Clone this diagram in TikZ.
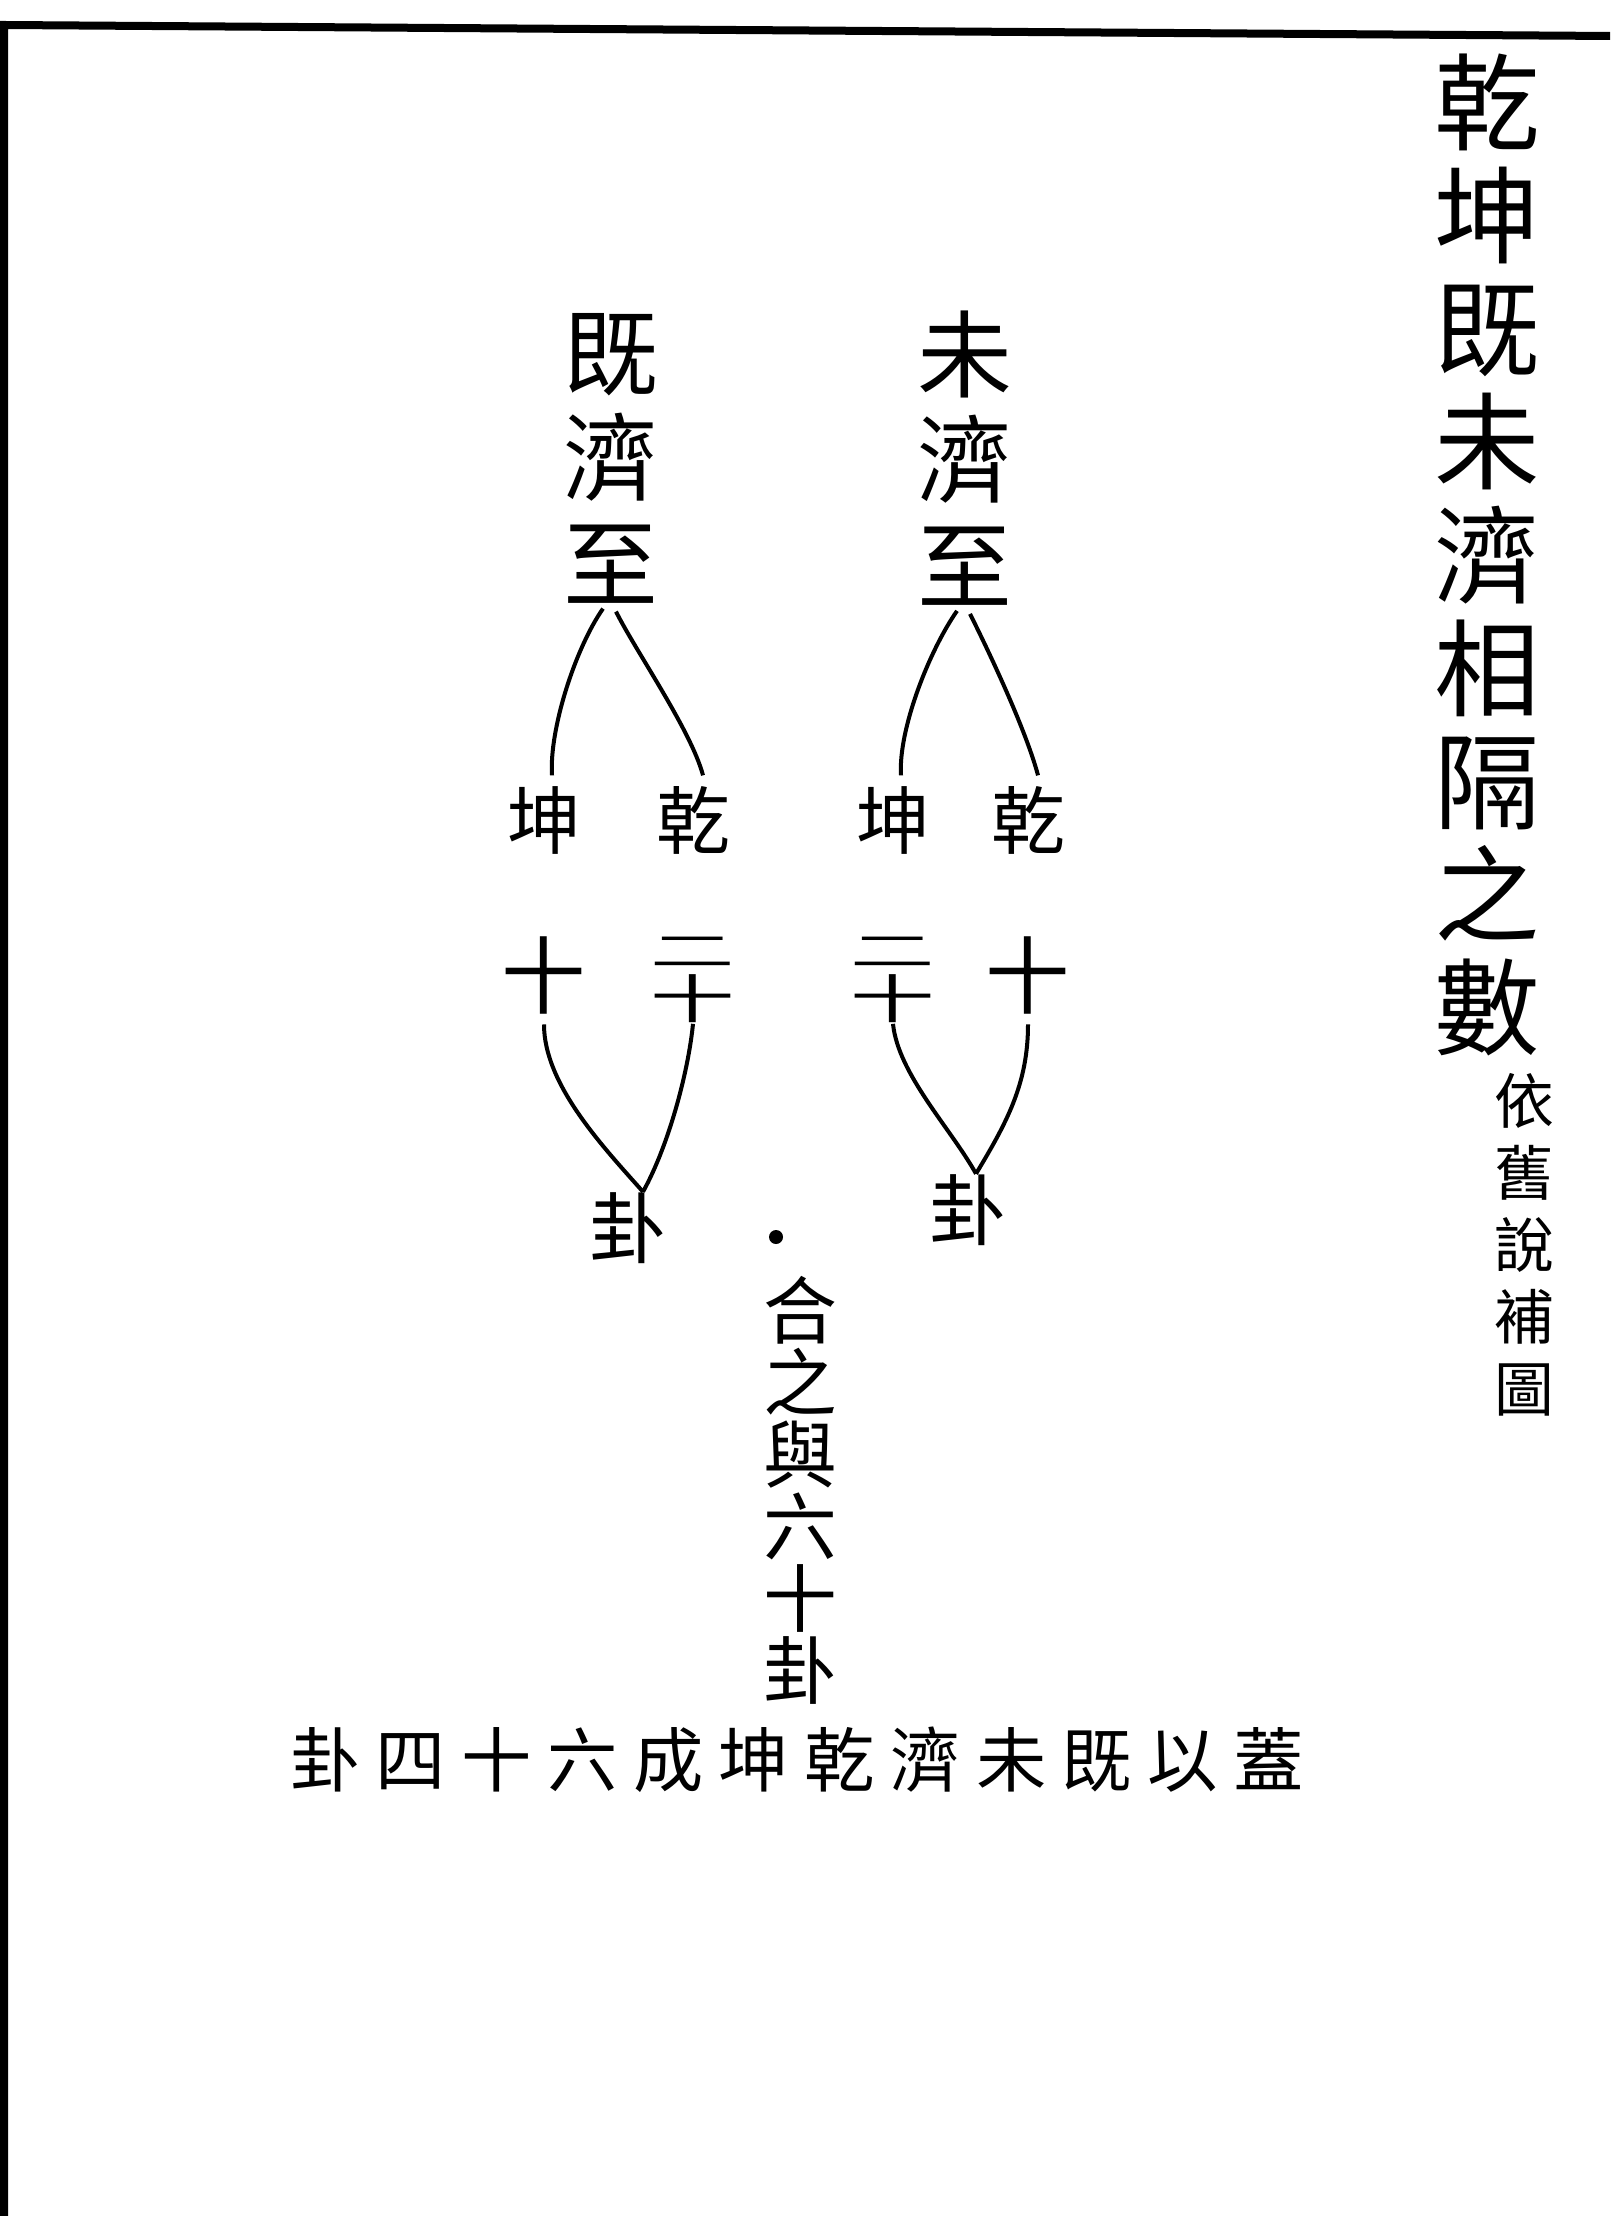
\documentclass[tikz,border=0pt]{standalone}
\usepackage{fontspec}
\setmainfont{Noto Sans CJK TC}
\newfontfamily\rowfont[LetterSpace=22]{Noto Sans CJK TC}
\usetikzlibrary{positioning}
\newcommand{\ershi}{\scalebox{1}[0.5]{二}\\[-9pt]\scalebox{1}[0.62]{十}}

\begin{document}
\begin{tikzpicture}[x=0.1mm,y=-0.1mm,
    every node/.style={inner sep=0pt},
    titlecol/.style={align=center,font=\fontsize{30}{32.2}\selectfont},
    notecol/.style={align=center,font=\fontsize{17}{20.5}\selectfont},
    namecol/.style={align=center,font=\fontsize{27}{30}\selectfont},
    gualabel/.style={font=\fontsize{21}{21}\selectfont},
    numlabel/.style={align=center,font=\fontsize{24}{24}\selectfont},
    sumcol/.style={align=center,font=\fontsize{21}{20.5}\selectfont},
    link/.style={line width=0.4mm}]
  \useasboundingbox (0,0) rectangle (1610,2216);
  % frame
  \draw[line width=0.8mm] (1610,36) -- (4,25) -- (4,2216);
  % title
  \node[titlecol] (title) at (1487,555) {乾\\坤\\既\\未\\濟\\相\\隔\\之\\數};
  \node[notecol] (note) at (1524,1245) {依\\舊\\說\\補\\圖};
  % the two columns
  \node[namecol] (jiji) at (611,458) {既\\濟\\至};
  \node[namecol] (weiji) at (965,458) {未\\濟\\至};
  \node[gualabel] (jkun) at (544,820) {坤};
  \node[gualabel] (jqian) at (693,820) {乾};
  \node[gualabel] (wkun) at (893,820) {坤};
  \node[gualabel] (wqian) at (1028,820) {乾};
  \node[numlabel] (jshi) at (544,975) {十};
  \node[numlabel] (jershi) at (693,980) {\ershi};
  \node[numlabel] (wershi) at (893,980) {\ershi};
  \node[numlabel] (wshi) at (1028,975) {十};
  \node[gualabel,font=\fontsize{22}{22}\selectfont] (jgua) at (628,1228) {卦};
  \node[gualabel,font=\fontsize{22}{22}\selectfont] (wgua) at (968,1210) {卦};
  \draw[link] ([xshift=-0.8mm,yshift=-0.5mm]jiji.south) .. controls +(-28,40) and +(-3,-45) .. ([xshift=0.8mm,yshift=1mm]jkun.north);
  \draw[link] ([xshift=0.5mm,yshift=-0.8mm]jiji.south) .. controls +(20,40) and +(-12,-45) .. ([xshift=1mm,yshift=1mm]jqian.north);
  \draw[link] ([xshift=-0.8mm,yshift=-0.5mm]weiji.south) .. controls +(-28,40) and +(-3,-45) .. ([xshift=0.8mm,yshift=1mm]wkun.north);
  \draw[link] ([xshift=0.5mm,yshift=-0.8mm]weiji.south) .. controls +(20,40) and +(-12,-45) .. ([xshift=1mm,yshift=1mm]wqian.north);
  \draw[link] ([yshift=-1mm]jshi.south) .. controls +(0,60) and +(-40,-45) .. ([xshift=1.5mm]jgua.north);
  \draw[link] (jershi.south) .. controls +(-5,50) and +(25,-45) .. ([xshift=1.5mm]jgua.north);
  \draw[link] (wershi.south) .. controls +(5,50) and +(-25,-45) .. ([xshift=0.8mm]wgua.north);
  \draw[link] ([yshift=-1mm]wshi.south) .. controls +(0,60) and +(30,-50) .. ([xshift=0.8mm]wgua.north);
  % sum
  \fill (776,1237) circle (7);
  \node[sumcol] (sum) at (800,1490) {合\\之\\與\\六\\十\\卦};
  \node[font=\rowfont\fontsize{20}{20}\selectfont] (gai) at (797,1760) {卦四十六成坤乾濟未既以蓋};
\end{tikzpicture}
\end{document}
